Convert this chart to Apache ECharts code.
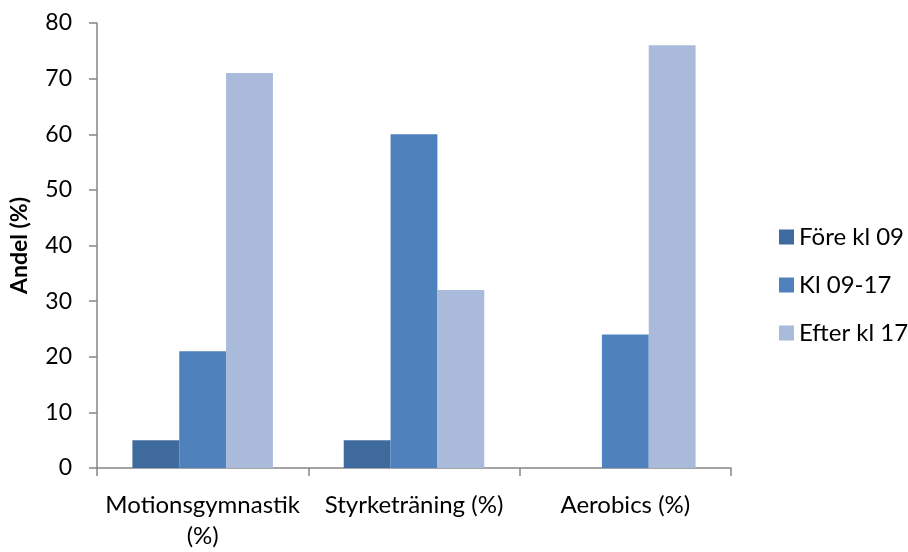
<!DOCTYPE html>
<html>
<head>
<meta charset="utf-8">
<script src="https://cdn.jsdelivr.net/npm/echarts@6/dist/echarts.min.js"></script>
<style>
  html, body { margin: 0; padding: 0; background: #fff; }
  #chart { width: 908px; height: 552px; }
</style>
</head>
<body>
<div id="chart"></div>
<script>
// Activity categories and share of participants per time slot
var categories = ['Motionsgymnastik\n(%)', 'Styrketräning (%)', 'Aerobics (%)'];
var seriesNames = ['Före kl 09', 'Kl 09-17', 'Efter kl 17'];
var foreKl09 = [5, 5, 0];
var kl0917 = [21, 60, 24];
var efterKl17 = [71, 32, 76];
var yTicks = [0, 10, 20, 30, 40, 50, 60, 70, 80];

var colors = ['#3f6a9e', '#4f81bd', '#aabadb'];
var font = 'Lato, "Open Sans", sans-serif';

var chart = echarts.init(document.getElementById('chart'), null, { renderer: 'canvas' });

function barSeries(name, data, color) {
  return {
    name: name,
    type: 'bar',
    data: data,
    barGap: '0%',
    barCategoryGap: '33.5%',
    itemStyle: { color: color },
    emphasis: { disabled: true }
  };
}

chart.setOption({
  animation: false,
  textStyle: { fontFamily: font },
  grid: { left: 97, right: 177, top: 23, bottom: 82, containLabel: false },
  legend: {
    orient: 'vertical',
    left: 774,
    top: 220,
    itemWidth: 15,
    itemHeight: 15,
    itemGap: 24,
    icon: 'rect',
    textStyle: { fontSize: 24, color: '#000', fontFamily: font, padding: [0, 0, 0, 0] },
    data: seriesNames
  },
  xAxis: {
    type: 'category',
    data: categories,
    axisLine: { lineStyle: { color: '#868686', width: 1.5 } },
    axisTick: { show: true, length: 8, inside: false, lineStyle: { color: '#868686', width: 1.5 } },
    axisLabel: { fontSize: 24, color: '#000', margin: 22, lineHeight: 31, interval: 0, fontFamily: font }
  },
  yAxis: {
    type: 'value',
    min: yTicks[0],
    max: yTicks[yTicks.length - 1],
    interval: yTicks[1] - yTicks[0],
    name: 'Andel (%)',
    nameLocation: 'middle',
    nameRotate: 90,
    nameGap: 66,
    nameTextStyle: { fontSize: 23, fontWeight: 'bold', color: '#000', fontFamily: font },
    splitLine: { show: false },
    axisLine: { show: true, lineStyle: { color: '#868686', width: 1.5 } },
    axisTick: { show: true, length: 8, lineStyle: { color: '#868686', width: 1.5 } },
    axisLabel: { fontSize: 23, color: '#000', margin: 25, fontFamily: font }
  },
  series: [
    barSeries(seriesNames[0], foreKl09, colors[0]),
    barSeries(seriesNames[1], kl0917, colors[1]),
    barSeries(seriesNames[2], efterKl17, colors[2])
  ]
});
</script>
</body>
</html>
